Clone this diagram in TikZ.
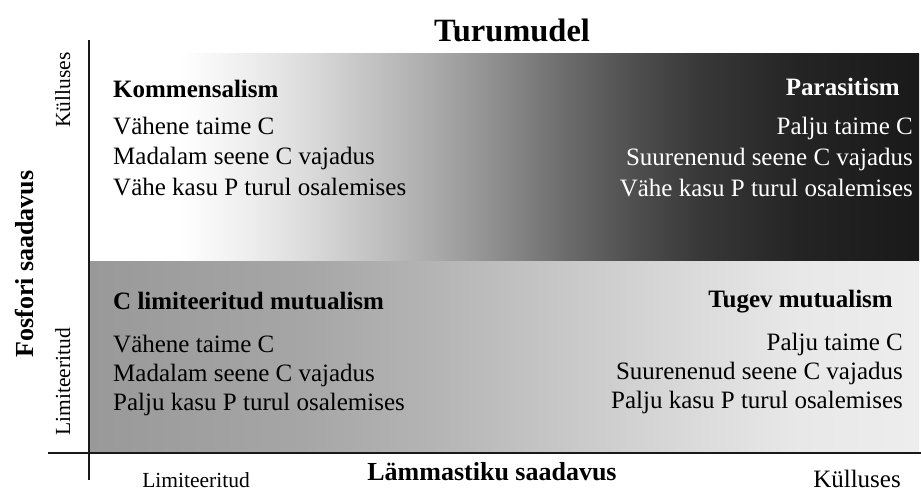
\documentclass[tikz,border=0pt]{standalone}
\usepackage{fontspec}
\setmainfont{Liberation Serif}
\definecolor{ta}{rgb}{0.93,0.93,0.93}
\definecolor{tb}{rgb}{0.87,0.87,0.87}
\definecolor{tc}{rgb}{0.67,0.67,0.67}
\definecolor{td}{rgb}{0.55,0.55,0.55}
\definecolor{te}{rgb}{0.42,0.42,0.42}
\definecolor{tf}{rgb}{0.31,0.31,0.31}
\definecolor{tg}{rgb}{0.22,0.22,0.22}
\definecolor{th}{rgb}{0.14,0.14,0.14}
\definecolor{ti}{rgb}{0.10,0.10,0.10}
\definecolor{ba}{rgb}{0.60,0.60,0.60}
\definecolor{bb}{rgb}{0.65,0.65,0.65}
\definecolor{bc}{rgb}{0.71,0.71,0.71}
\definecolor{bd}{rgb}{0.78,0.78,0.78}
\definecolor{be}{rgb}{0.86,0.86,0.86}
\definecolor{bf}{rgb}{0.91,0.91,0.91}
\definecolor{bg}{rgb}{0.93,0.93,0.93}
\pgfdeclarehorizontalshading{topgrad}{100bp}{color(0bp)=(white); color(30.48bp)=(white); color(34.7bp)=(ta); color(37.71bp)=(tb); color(45.72bp)=(tc); color(49.76bp)=(td); color(53.8bp)=(te); color(57.77bp)=(tf); color(61.81bp)=(tg); color(67.83bp)=(th); color(75bp)=(ti); color(100bp)=(ti)}
\pgfdeclarehorizontalshading{botgrad}{100bp}{color(0bp)=(ba); color(25bp)=(ba); color(37.71bp)=(bb); color(46.14bp)=(bc); color(53.37bp)=(bd); color(61.81bp)=(be); color(67.83bp)=(bf); color(75bp)=(bg); color(100bp)=(bg)}
\tikzset{
  body/.style={font=\fontsize{25}{30}\selectfont, inner sep=0pt},
  head/.style={font=\bfseries\fontsize{25}{30}\selectfont, inner sep=0pt},
  smalllab/.style={font=\fontsize{21.5}{25}\selectfont, inner sep=0pt},
  axislab/.style={font=\bfseries\fontsize{26}{30}\selectfont, inner sep=0pt},
  titlelab/.style={font=\bfseries\fontsize{32.5}{36}\selectfont, inner sep=0pt},
  axisline/.style={line width=2pt, draw=black!90},
}
\begin{document}
\begin{tikzpicture}[x=1pt,y=-1pt]
\useasboundingbox (0,0) rectangle (921,491);
% panels
\path[shading=topgrad] (89,53) rectangle (919,261);
\path[shading=botgrad] (89,261) rectangle (919,453);
% axes
\coordinate (vtop) at (89,40);
\coordinate (vbot) at (89,480);
\coordinate (hleft) at (48,453);
\coordinate (hright) at (921,453);
\draw[axisline] (vtop) -- (vbot);
\draw[axisline] (hleft) -- (hright);
% title
\node[titlelab, anchor=base] (title) at (512,41) {Turumudel};
% top-left
\node[head, anchor=base west] (kh) at (113,97) {Kommensalism};
\node[body, anchor=base west] (k1) at (113,134) {Vähene taime C};
\node[body, anchor=base west] (k2) at (113,164) {Madalam seene C vajadus};
\node[body, anchor=base west] (k3) at (113,195) {Vähe kasu P turul osalemises};
% top-right
\node[head, anchor=base east, text=white] (ph) at (900,95) {Parasitism};
\node[body, anchor=base east, text=white] (p1) at (913,134) {Palju taime C};
\node[body, anchor=base east, text=white] (p2) at (913,165) {Suurenenud seene C vajadus};
\node[body, anchor=base east, text=white] (p3) at (913,196) {Vähe kasu P turul osalemises};
% bottom-left
\node[head, anchor=base west] (ch) at (113,309) {C limiteeritud mutualism};
\node[body, anchor=base west] (c1) at (113,352) {Vähene taime C};
\node[body, anchor=base west] (c2) at (113,381) {Madalam seene C vajadus};
\node[body, anchor=base west] (c3) at (113,410) {Palju kasu P turul osalemises};
% bottom-right
\node[head, anchor=base east] (th) at (893,307) {Tugev mutualism};
\node[body, anchor=base east] (t1) at (903,350) {Palju taime C};
\node[body, anchor=base east] (t2) at (903,379) {Suurenenud seene C vajadus};
\node[body, anchor=base east] (t3) at (903,408) {Palju kasu P turul osalemises};
% axis labels
\node[axislab, anchor=base] (xlab) at (492,480) {Lämmastiku saadavus};
\node[smalllab, anchor=base] (xlo) at (196,487) {Limiteeritud};
\node[body, anchor=base] (xhi) at (857,487) {Külluses};
\node[axislab, anchor=base, rotate=90] (ylab) at (33,264) {Fosfori saadavus};
\node[smalllab, anchor=base, rotate=90] (yhi) at (70,90) {Külluses};
\node[smalllab, anchor=base, rotate=90] (ylo) at (70,382) {Limiteeritud};
\end{tikzpicture}
\end{document}
